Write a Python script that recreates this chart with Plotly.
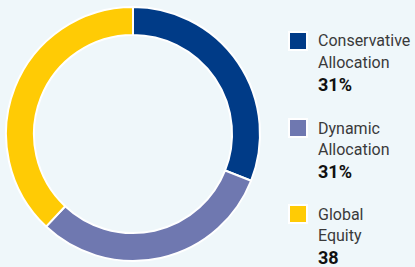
import plotly.graph_objects as go

labels = ["Conservative Allocation", "Dynamic Allocation", "Global Equity"]
label_lines = [["Conservative", "Allocation"], ["Dynamic", "Allocation"], ["Global", "Equity"]]
values = [31, 31, 38]
value_text = ["31%", "31%", "38"]
colors = ["#003b87", "#6f78b0", "#ffcb05"]

W, H = 415, 267
BG = "#eff7fa"

fig = go.Figure(go.Pie(
    labels=labels, values=values, hole=0.78, sort=False, direction="clockwise",
    rotation=0, marker=dict(colors=colors, line=dict(color="white", width=2)),
    textinfo="none", hoverinfo="label+percent",
    domain=dict(x=[6 / W, 260 / W], y=[6 / H, 260 / H]),
))

shapes = []
annotations = []
sq_top = [32, 119, 205]
for i, lab in enumerate(label_lines):
    t = sq_top[i]
    shapes.append(dict(type="rect", xref="paper", yref="paper",
                       x0=289 / W, x1=307 / W, y0=1 - (t + 18) / H, y1=1 - t / H,
                       fillcolor=colors[i], line=dict(color="white", width=2)))
    ys = [t + 9, t + 30, t + 52]
    for j, line in enumerate(lab):
        annotations.append(dict(x=316 / W, y=1 - ys[j] / H, xref="paper", yref="paper",
                                xanchor="left", yanchor="middle", showarrow=False,
                                text=line, font=dict(family="Roboto", size=16, color="#3a3a3a")))
    annotations.append(dict(x=316 / W, y=1 - ys[2] / H, xref="paper", yref="paper",
                            xanchor="left", yanchor="middle", showarrow=False,
                            text="<b>" + value_text[i] + "</b>",
                            font=dict(family="Roboto", size=18, color="#111111")))

fig.update_layout(width=W, height=H, margin=dict(l=0, r=0, t=0, b=0),
                  paper_bgcolor=BG, plot_bgcolor=BG, showlegend=False,
                  shapes=shapes, annotations=annotations)
fig.write_html("out.html", config={"displayModeBar": False},
               post_script="document.body.style.margin='0';document.body.style.background='%s';" % BG)
